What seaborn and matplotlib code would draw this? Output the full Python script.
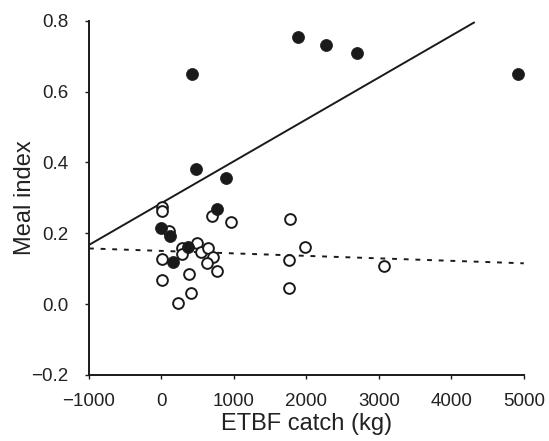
import numpy as np
import pandas as pd
import matplotlib
matplotlib.use('Agg')
import matplotlib.pyplot as plt
import seaborn as sns

# puntos llenos
catch_llenos = [0, 117, 154, 361, 417, 471, 765, 885, 1887, 2278, 2697, 4921]
meal_llenos = [0.214, 0.192, 0.118, 0.162, 0.649, 0.380, 0.267, 0.357, 0.755, 0.731, 0.708, 0.649]

# puntos vacios
catch_vacios = [3, 3, 103, 11, 11, 290, 280, 485, 540, 646, 715, 623, 770, 384, 402, 232,
                692, 954, 1772, 1763, 1763, 1979, 3069]
meal_vacios = [0.275, 0.262, 0.207, 0.127, 0.068, 0.158, 0.140, 0.172, 0.148, 0.157, 0.134,
               0.115, 0.094, 0.085, 0.030, 0.002, 0.249, 0.231, 0.240, 0.124, 0.045, 0.160, 0.108]

# rectas de regresion (intercepto, pendiente, rango x)
recta_llena = (0.285, 0.0001182, [-1000, 4315])
recta_punteada = (0.150, -0.000007, [-1000, 5000])

sns.set_style('ticks')
plt.rcParams['font.family'] = ['Liberation Sans', 'DejaVu Sans']

fig = plt.figure(figsize=(5.49, 4.41), dpi=100)
ax = fig.add_axes([0.162, 0.150, 0.792, 0.803])

for (b0, b1, xr), estilo in [(recta_llena, '-'), (recta_punteada, (0, (2.5, 3.5)))]:
    xs = np.array(xr, dtype=float)
    df_linea = pd.DataFrame({'x': xs, 'y': b0 + b1 * xs})
    sns.lineplot(data=df_linea, x='x', y='y', ax=ax, color='#1a1a1a', linewidth=1.4, zorder=1)
    ax.lines[-1].set_linestyle(estilo)

df_vacios = pd.DataFrame({'catch': catch_vacios, 'meal': meal_vacios})
df_llenos = pd.DataFrame({'catch': catch_llenos, 'meal': meal_llenos})
sns.scatterplot(data=df_vacios, x='catch', y='meal', ax=ax, s=60, facecolor='white',
                edgecolor='#1a1a1a', linewidth=1.4, zorder=2)
sns.scatterplot(data=df_llenos, x='catch', y='meal', ax=ax, s=75, color='#1a1a1a',
                edgecolor='#1a1a1a', linewidth=0.5, zorder=3)

ax.set_xlim(-1000, 5000)
ax.set_ylim(-0.2, 0.8)
ax.set_xticks([-1000, 0, 1000, 2000, 3000, 4000, 5000])
ax.set_xticklabels(['\u22121000', '0', '1000', '2000', '3000', '4000', '5000'])
ax.set_yticks([-0.2, 0.0, 0.2, 0.4, 0.6, 0.8])
ax.set_yticklabels(['\u22120.2', '0.0', '0.2', '0.4', '0.6', '0.8'])
ax.tick_params(labelsize=13.5, length=3, width=1, colors='#1a1a1a', labelcolor='#222222')
ax.tick_params(axis='x', pad=10)
ax.tick_params(axis='y', pad=12)
for lado in ['left', 'bottom']:
    ax.spines[lado].set_linewidth(1.4)
    ax.spines[lado].set_color('#1a1a1a')
sns.despine(ax=ax)

ax.set_xlabel('ETBF catch (kg)', fontsize=17, color='#222222', labelpad=2)
ax.set_ylabel('Meal index', fontsize=17, color='#222222', labelpad=-4)

fig.savefig('out.png', dpi=100)
